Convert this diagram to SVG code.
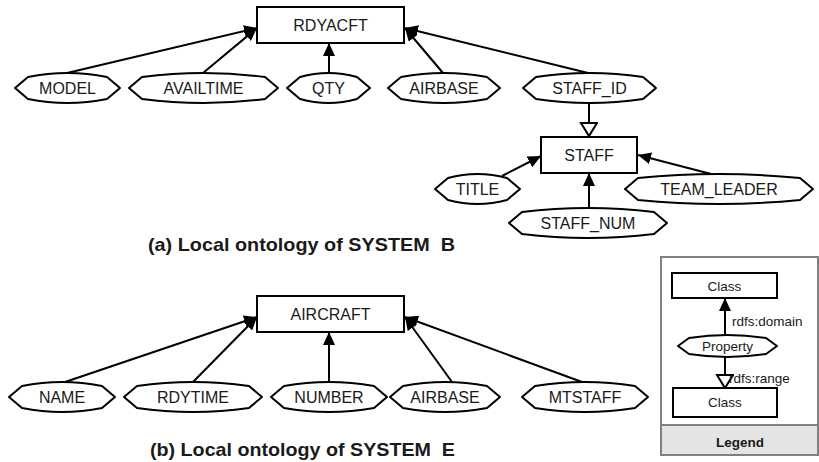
<svg xmlns="http://www.w3.org/2000/svg" width="819" height="462" viewBox="0 0 819 462">
<style>
  .box{fill:#fff;stroke:#000;stroke-width:2}
  .prop{fill:#fff;stroke:#000;stroke-width:2;stroke-linejoin:round}
  .lbl{font-family:"Liberation Sans",Arial,sans-serif;font-size:16px;fill:#1a1a1a;text-anchor:middle}
  .sm{font-family:"Liberation Sans",Arial,sans-serif;font-size:13.5px;fill:#1a1a1a}
  .cap{font-family:"Liberation Sans",Arial,sans-serif;font-size:19px;font-weight:bold;fill:#1a1a1a;white-space:pre}
  .edge{stroke:#000;stroke-width:2;fill:none}
  .dom{marker-end:url(#arrow)}
  .rng{marker-end:url(#tri)}
</style>
<defs>
  <marker id="arrow" markerUnits="userSpaceOnUse" markerWidth="14" markerHeight="12" refX="13" refY="6" orient="auto">
    <path d="M0,0 L13,6 L0,12 Z" fill="#000"/>
  </marker>
  <marker id="tri" markerUnits="userSpaceOnUse" markerWidth="18" markerHeight="20" refX="15" refY="9" orient="auto">
    <path d="M2,1 L15,9 L2,17 Z" fill="#fff" stroke="#000" stroke-width="2"/>
  </marker>
</defs>

<g id="connectors">
  <line class="edge dom" x1="67" y1="73" x2="257" y2="28"/>
  <line class="edge dom" x1="203" y1="73" x2="257" y2="28"/>
  <line class="edge dom" x1="329" y1="73" x2="329" y2="43"/>
  <line class="edge dom" x1="443" y1="73" x2="405" y2="28"/>
  <line class="edge dom" x1="588" y1="73" x2="405" y2="28"/>
  <line class="edge rng" x1="589" y1="103" x2="589" y2="136"/>
  <line class="edge dom" x1="502" y1="176" x2="541" y2="156"/>
  <line class="edge dom" x1="589" y1="208" x2="589" y2="173"/>
  <line class="edge dom" x1="715" y1="175" x2="638" y2="155"/>
  <line class="edge dom" x1="65" y1="382" x2="257" y2="317"/>
  <line class="edge dom" x1="193" y1="382" x2="257" y2="317"/>
  <line class="edge dom" x1="329" y1="382" x2="329" y2="332"/>
  <line class="edge dom" x1="452" y1="382" x2="405" y2="317"/>
  <line class="edge dom" x1="582" y1="382" x2="405" y2="317"/>
</g>

<g id="RDYACFT"><rect class="box" x="257" y="7" width="147" height="36"/><text class="lbl" x="330.5" y="31">RDYACFT</text></g>
<g id="MODEL"><path class="prop" d="M15,88 L28,77 Q67.5,69 107,77 L120,88 L107,99 Q67.5,107 28,99 Z"/><text class="lbl" x="67.5" y="94">MODEL</text></g>
<g id="AVAILTIME"><path class="prop" d="M129,88 L142,77 Q203.5,69 265,77 L278,88 L265,99 Q203.5,107 142,99 Z"/><text class="lbl" x="203.5" y="94">AVAILTIME</text></g>
<g id="QTY"><path class="prop" d="M287,88 L300,77 Q328.5,69 357,77 L370,88 L357,99 Q328.5,107 300,99 Z"/><text class="lbl" x="328.5" y="94">QTY</text></g>
<g id="AIRBASE_B"><path class="prop" d="M388,88 L401,77 Q444,69 487,77 L500,88 L487,99 Q444,107 401,99 Z"/><text class="lbl" x="444" y="94">AIRBASE</text></g>
<g id="STAFF_ID"><path class="prop" d="M523,88 L536,77 Q589.5,69 643,77 L656,88 L643,99 Q589.5,107 536,99 Z"/><text class="lbl" x="589.5" y="94">STAFF_ID</text></g>
<g id="STAFF"><rect class="box" x="541" y="137" width="96" height="36"/><text class="lbl" x="589" y="161">STAFF</text></g>
<g id="TITLE"><path class="prop" d="M435,189 L448,178 Q477.5,170 507,178 L520,189 L507,200 Q477.5,208 448,200 Z"/><text class="lbl" x="477.5" y="195">TITLE</text></g>
<g id="STAFF_NUM"><path class="prop" d="M509,223 L522,212 Q588,204 654,212 L667,223 L654,234 Q588,242 522,234 Z"/><text class="lbl" x="588" y="229">STAFF_NUM</text></g>
<g id="TEAM_LEADER"><path class="prop" d="M625,189 L638,178 Q719,170 800,178 L813,189 L800,200 Q719,208 638,200 Z"/><text class="lbl" x="719" y="195">TEAM_LEADER</text></g>

<text class="cap" x="148" y="251" textLength="307" lengthAdjust="spacingAndGlyphs" xml:space="preserve">(a) Local ontology of SYSTEM  B</text>

<g id="AIRCRAFT"><rect class="box" x="257" y="296" width="147" height="36"/><text class="lbl" x="330.5" y="320">AIRCRAFT</text></g>
<g id="NAME"><path class="prop" d="M9,397 L22,386 Q62,378 102,386 L115,397 L102,408 Q62,416 22,408 Z"/><text class="lbl" x="62" y="403">NAME</text></g>
<g id="RDYTIME"><path class="prop" d="M124,397 L137,386 Q193,378 249,386 L262,397 L249,408 Q193,416 137,408 Z"/><text class="lbl" x="193" y="403">RDYTIME</text></g>
<g id="NUMBER"><path class="prop" d="M271,397 L284,386 Q329,378 374,386 L387,397 L374,408 Q329,416 284,408 Z"/><text class="lbl" x="329" y="403">NUMBER</text></g>
<g id="AIRBASE_E"><path class="prop" d="M390,397 L403,386 Q445,378 487,386 L500,397 L487,408 Q445,416 403,408 Z"/><text class="lbl" x="445" y="403">AIRBASE</text></g>
<g id="MTSTAFF"><path class="prop" d="M522,397 L535,386 Q585,378 635,386 L648,397 L635,408 Q585,416 535,408 Z"/><text class="lbl" x="585" y="403">MTSTAFF</text></g>

<text class="cap" x="150" y="456" textLength="305" lengthAdjust="spacingAndGlyphs" xml:space="preserve">(b) Local ontology of SYSTEM  E</text>

<g id="legend">
  <rect x="661" y="257" width="157" height="198" fill="#fff" stroke="#808080" stroke-width="2"/>
  <rect x="661" y="425" width="157" height="30" fill="#e4e4e4" stroke="#808080" stroke-width="2"/>
  <rect class="box" x="672" y="273" width="105" height="25"/>
  <text class="sm" x="724.5" y="291" text-anchor="middle">Class</text>
  <path class="prop" d="M678,346 L689,338 Q727.5,332 766,338 L777,346 L766,354 Q727.5,360 689,354 Z"/>
  <text class="sm" x="727.5" y="351" text-anchor="middle">Property</text>
  <line class="edge dom" x1="725" y1="335" x2="725" y2="298"/>
  <line class="edge rng" x1="725" y1="357" x2="725" y2="388"/>
  <text class="sm" x="732" y="326">rdfs:domain</text>
  <text class="sm" x="729" y="383">rdfs:range</text>
  <rect class="box" x="673" y="388" width="104" height="29"/>
  <text class="sm" x="725" y="407" text-anchor="middle">Class</text>
  <text class="sm" x="740" y="447" text-anchor="middle" font-weight="bold" font-size="14">Legend</text>
</g>
</svg>
